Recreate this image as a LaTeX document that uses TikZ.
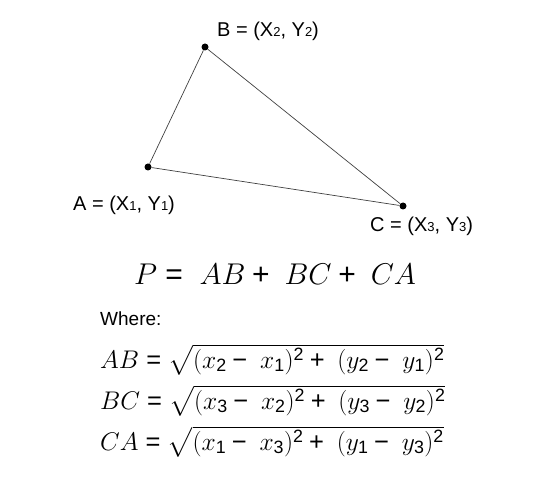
\documentclass[tikz,border=0pt]{standalone}
\usepackage{fix-cm}
\usepackage{amsmath}
\usepackage{fontspec}
\setmainfont{Liberation Sans}
\newcommand\idx[1]{{\fontsize{13}{13}\selectfont #1}}
\newcommand\Eq{\mathrel{\textrm{=}}}
\newcommand\Pl{\mathbin{\textrm{+}}}
\newcommand\Mi{\mathbin{\textrm{−}}}
\newcommand\dg[1]{\textrm{#1}}
\begin{document}
\begin{tikzpicture}[x=1pt,y=-1pt,
    dot/.style={circle,fill,inner sep=0pt,minimum size=7pt},
    lbl/.style={anchor=base west,inner sep=0pt,font=\fontsize{20}{22}\selectfont},
    eq/.style={anchor=base west,inner sep=0pt,font=\fontsize{25.5}{30}\selectfont}]
\useasboundingbox (0,0) rectangle (557,494);
% triangle
\node[dot] (a) at (148,167) {};
\node[dot] (b) at (205,47) {};
\node[dot] (c) at (403,206) {};
\draw[line width=0.7pt,black!75] (a) -- (b) -- (c) -- (a);
\node[lbl] (la) at (73,211) {A = (X\idx{1}, Y\idx{1})};
\node[lbl] (lb) at (217,37) {B = (X\idx{2}, Y\idx{2})};
\node[lbl] (lc) at (370,232) {C = (X\idx{3}, Y\idx{3})};
% formulas
\node[eq,anchor=base,font=\fontsize{30}{34}\selectfont] (per) at (275,285)
  {$P \Eq \ AB \Pl \ BC \Pl \ CA$};
\node[lbl,font=\fontsize{19}{22}\selectfont] (where) at (100,326) {Where:};
\node[eq] (ab) at (100,368)
  {$AB \Eq \sqrt{(x_{\dg2} \Mi \ x_{\dg1})^{\dg2} \Pl \ (y_{\dg2} \Mi \ y_{\dg1})^{\dg2}}$};
\node[eq] (bc) at (100,409)
  {$BC \Eq \sqrt{(x_{\dg3} \Mi \ x_{\dg2})^{\dg2} \Pl \ (y_{\dg3} \Mi \ y_{\dg2})^{\dg2}}$};
\node[eq] (ca) at (100,450)
  {$CA \Eq \sqrt{(x_{\dg1} \Mi \ x_{\dg3})^{\dg2} \Pl \ (y_{\dg1} \Mi \ y_{\dg3})^{\dg2}}$};
\end{tikzpicture}
\end{document}
